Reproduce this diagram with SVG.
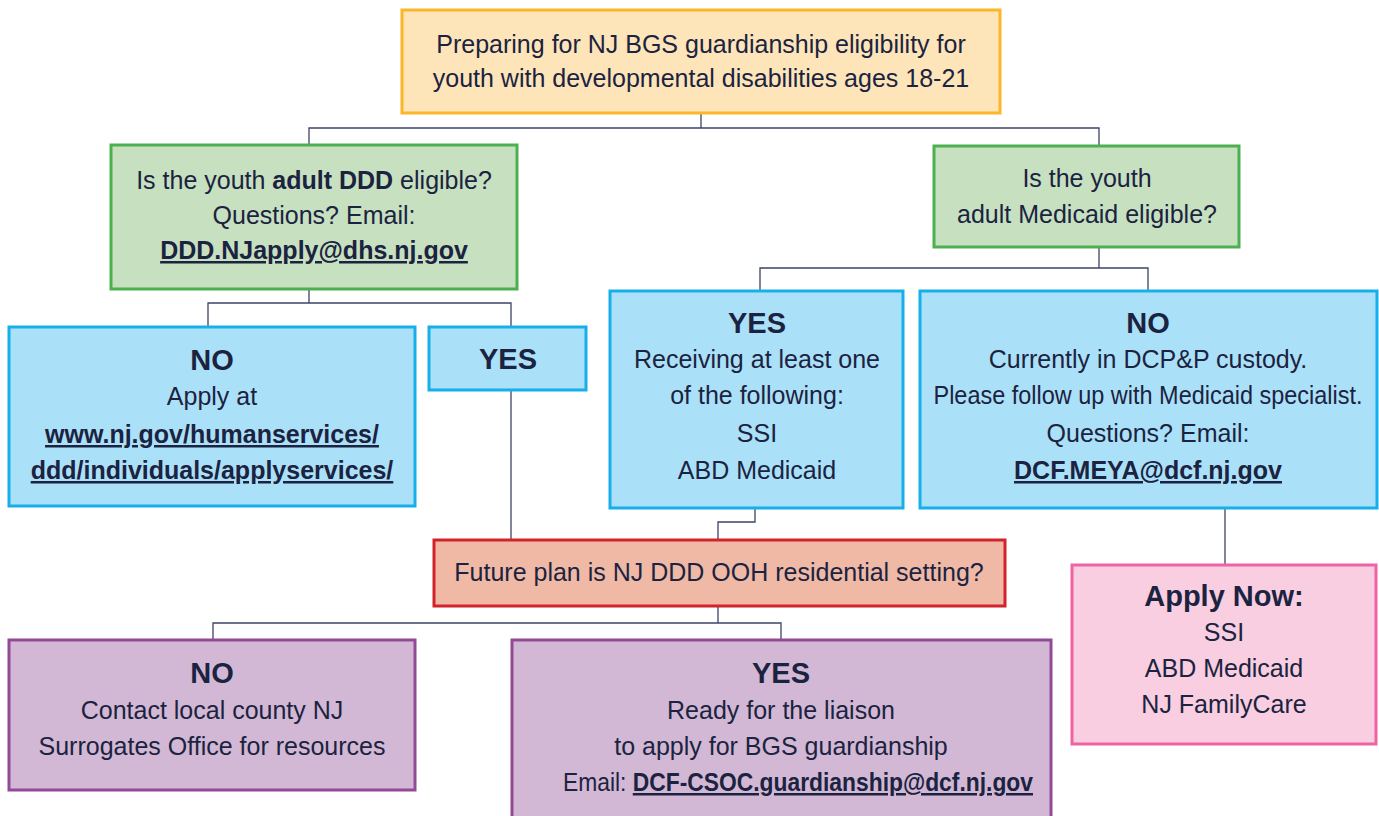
<svg xmlns="http://www.w3.org/2000/svg" width="1379" height="816" viewBox="0 0 1379 816">
<style>
text{font-family:"Liberation Sans",Arial,sans-serif;font-size:25px;fill:#1b2340;text-anchor:middle}
.b{font-weight:bold}
.h{font-weight:bold;font-size:29px}
.u{font-weight:bold;text-decoration:underline}
.box{stroke-width:3}
.orange{fill:#fde5b9;stroke:#fbb629}
.green{fill:#c7e0c0;stroke:#4caf50}
.blue{fill:#abe0f9;stroke:#17afea}
.red{fill:#f0b9a6;stroke:#d2232a}
.pink{fill:#f8cee0;stroke:#ef63a3}
.purple{fill:#d2b8d4;stroke:#924a96}
#connectors path{fill:none;stroke:#3d4466;stroke-width:1.3}
</style>
<rect width="1379" height="816" fill="#ffffff"/>
<g id="connectors">
<path d="M701 113V128M309 145V128H1099V146"/>
<path d="M309 289V303M208 327V303H511V327"/>
<path d="M1099 247V268M760 291V268H1148V291"/>
<path d="M511 390V540"/>
<path d="M755 508V522H718V540"/>
<path d="M1225 508V565"/>
<path d="M718 606V623M213 640V623H781V640"/>
</g>
<g id="top">
<rect class="box orange" x="402" y="10" width="598" height="103"/>
<text x="701" y="53">Preparing for NJ BGS guardianship eligibility for</text>
<text x="701" y="87">youth with developmental disabilities ages 18-21</text>
</g>
<g id="ddd-eligible">
<rect class="box green" x="111" y="145" width="406" height="144"/>
<text x="314" y="189">Is the youth <tspan class="b">adult DDD</tspan> eligible?</text>
<text x="314" y="224">Questions? Email:</text>
<text class="u" x="314" y="259">DDD.NJapply@dhs.nj.gov</text>
</g>
<g id="medicaid-eligible">
<rect class="box green" x="934" y="146" width="305" height="101"/>
<text x="1087" y="187">Is the youth</text>
<text x="1087" y="223">adult Medicaid eligible?</text>
</g>
<g id="ddd-no">
<rect class="box blue" x="9" y="327" width="406" height="179"/>
<text class="h" x="212" y="370">NO</text>
<text x="212" y="405">Apply at</text>
<text class="u" x="212" y="443">www.nj.gov/humanservices/</text>
<text class="u" x="212" y="479">ddd/individuals/applyservices/</text>
</g>
<g id="ddd-yes">
<rect class="box blue" x="429" y="327" width="157" height="63"/>
<text class="h" x="508" y="369">YES</text>
</g>
<g id="medicaid-yes">
<rect class="box blue" x="610" y="291" width="293" height="217"/>
<text class="h" x="757" y="333">YES</text>
<text x="757" y="368">Receiving at least one</text>
<text x="757" y="404">of the following:</text>
<text x="757" y="442">SSI</text>
<text x="757" y="479">ABD Medicaid</text>
</g>
<g id="medicaid-no">
<rect class="box blue" x="920" y="291" width="457" height="217"/>
<text class="h" x="1148" y="333">NO</text>
<text x="1148" y="368">Currently in DCP&amp;P custody.</text>
<text x="1148" y="404" textLength="429" lengthAdjust="spacingAndGlyphs">Please follow up with Medicaid specialist.</text>
<text x="1148" y="442">Questions? Email:</text>
<text class="u" x="1148" y="479">DCF.MEYA@dcf.nj.gov</text>
</g>
<g id="future-plan">
<rect class="box red" x="434" y="540" width="571" height="66"/>
<text x="719" y="581">Future plan is NJ DDD OOH residential setting?</text>
</g>
<g id="apply-now">
<rect class="box pink" x="1072" y="565" width="304" height="179"/>
<text class="h" x="1224" y="606">Apply Now:</text>
<text x="1224" y="641">SSI</text>
<text x="1224" y="677">ABD Medicaid</text>
<text x="1224" y="713">NJ FamilyCare</text>
</g>
<g id="future-no">
<rect class="box purple" x="9" y="640" width="406" height="150"/>
<text class="h" x="212" y="683">NO</text>
<text x="212" y="719">Contact local county NJ</text>
<text x="212" y="755">Surrogates Office for resources</text>
</g>
<g id="future-yes">
<rect class="box purple" x="512" y="640" width="539" height="190"/>
<text class="h" x="781" y="683">YES</text>
<text x="781" y="719">Ready for the liaison</text>
<text x="781" y="755">to apply for BGS guardianship</text>
<text x="563" y="791" style="text-anchor:start" textLength="470" lengthAdjust="spacingAndGlyphs">Email: <tspan class="u">DCF-CSOC.guardianship@dcf.nj.gov</tspan></text>
</g>
</svg>
